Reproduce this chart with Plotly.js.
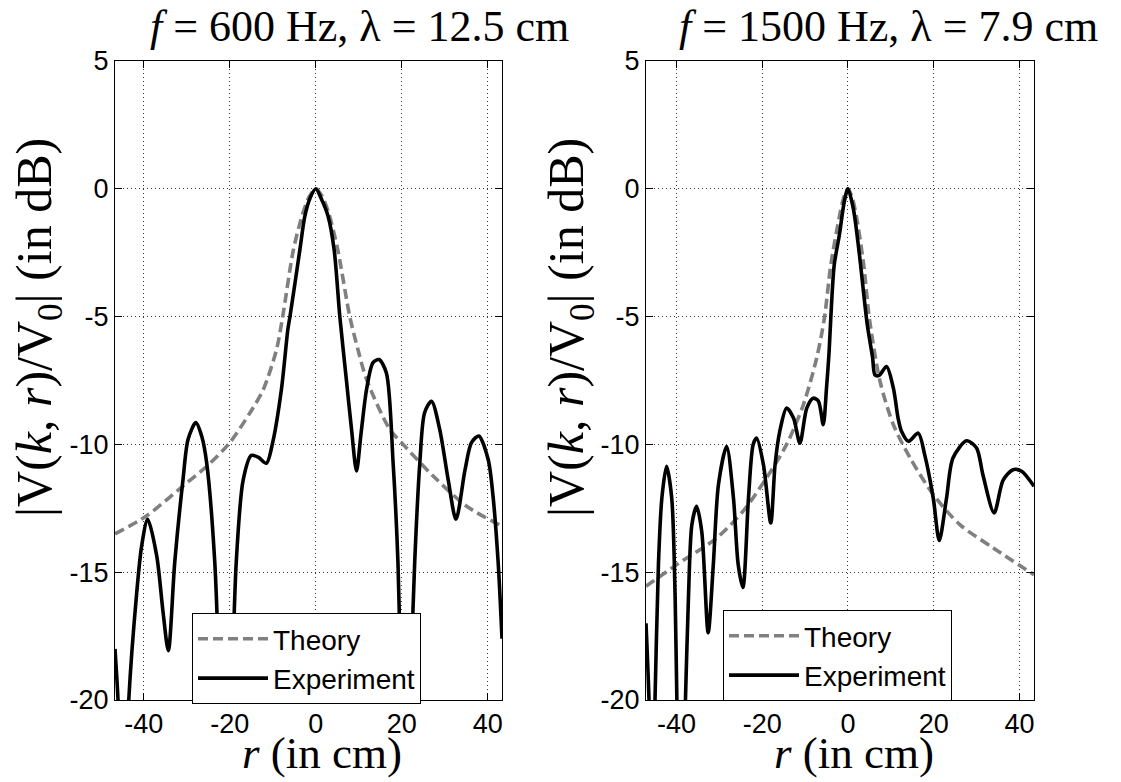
<!DOCTYPE html>
<html>
<head>
<meta charset="utf-8">
<script src="https://cdn.plot.ly/plotly-3.0.1.min.js"></script>
<style>html,body{margin:0;padding:0;background:#fff;}#chart{width:1121px;height:782px;}</style>
</head>
<body>
<div id="chart"></div>
<script>
// ---------- data ----------
const seriesNames = ['Theory', 'Experiment'];
const panelTitles = ['<i>f</i> = 600 Hz, λ = 12.5 cm', '<i>f</i> = 1500 Hz, λ = 7.9 cm'];
const xTickVals = [-40, -20, 0, 20, 40];
const yTickVals = [-20, -15, -10, -5, 0, 5];

// Left panel (600 Hz)
const leftTheoryR = [-46.7,-39.4,-30.9,-25,-20,-15.3,-12.2,-9.14,-7.7,-5.2,-3.0,-1.5,0,1.5,3.0,5.1,7.9,9.8,11.8,17.2,20.3,27.3,35,43.3];
const leftTheoryV = [-13.5,-12.8,-11.63,-10.8,-9.93,-8.76,-7.85,-6.29,-5.0,-2.38,-0.95,-0.3,0,-0.3,-0.95,-2.38,-5.0,-6.29,-7.46,-9.41,-10.0,-11.24,-12.41,-13.2];
const leftExpR = [-46.7,-46.0,-44.8,-43.5,-41.7,-40.5,-39.1,-37.0,-35.5,-34.3,-32.8,-30.9,-29.7,-27.9,-26.5,-25.4,-23.5,-22.3,-21.0,-19.6,-18.5,-16.9,-15.0,-13.4,-11.5,-10.0,-8.0,-6.5,-6.0,-3.7,-2.56,-1.3,0,1.3,2.87,4.26,5.58,7.1,8.3,9.46,10.5,11.8,13.3,14.7,16.4,17.97,19.1,19.9,20.9,21.9,23.0,24.2,25.3,26.9,28.8,30.8,32.6,34.7,36.2,37.9,40.1,41.2,42.4,43.3];
const leftExpV = [-18.0,-20.0,-26.0,-20.0,-15.9,-13.97,-12.93,-14.36,-16.6,-18.07,-14.6,-11.4,-9.8,-9.15,-9.7,-10.7,-14.6,-20.0,-26.0,-20.0,-14.6,-11.4,-10.43,-10.5,-10.74,-9.9,-7.85,-5.5,-4.99,-2.38,-1.08,-0.35,0,-0.4,-1.08,-2.38,-4.99,-7.46,-9.4,-11.04,-9.6,-7.85,-6.8,-6.68,-7.2,-10.7,-14.6,-20.0,-26.0,-20.0,-14.6,-10.7,-8.76,-8.31,-9.4,-11.4,-12.93,-11.0,-9.93,-9.67,-10.6,-12.0,-14.6,-17.6];

// Right panel (1500 Hz)
const rightTheoryR = [-47.1,-39.9,-30.6,-24.4,-18.95,-14.3,-10.4,-7.3,-5.5,-4.0,-2.0,-1.0,0,1.0,2.0,3.7,5.0,7.5,10.6,14.5,19.9,26.1,33.9,43.4];
const rightTheoryV = [-15.55,-14.7,-13.66,-12.6,-11.3,-10.0,-8.45,-6.63,-5.07,-2.98,-1.1,-0.35,0,-0.35,-1.1,-3.0,-5.07,-7.54,-9.23,-10.53,-11.96,-13.14,-14.05,-15.1];
const rightExpR = [-47.1,-46.4,-45.8,-45.0,-44.2,-43.4,-42.3,-41.1,-40.3,-39.9,-39.0,-37.9,-37.2,-36.4,-35.3,-34.1,-32.6,-31.4,-30.2,-28.3,-26.7,-25.6,-24.5,-23.2,-22.1,-21.3,-19.7,-18.0,-17.0,-15.9,-14.3,-12.7,-11.2,-9.6,-8.1,-6.9,-5.76,-5.0,-4.4,-4.0,-3.2,-2.0,-0.86,0,1.25,2.6,4.5,5.75,6.3,7.3,9.0,10.6,11.7,12.5,14.1,16.4,17.9,19.9,21.3,23.0,24.5,27.7,30.0,31.5,34.1,36.2,38.5,40.5,43.4];
const rightExpV = [-17.0,-20.0,-25.0,-20.0,-14.7,-12.1,-10.86,-12.1,-16.0,-20.0,-26.0,-20.0,-16.0,-13.14,-12.42,-13.4,-17.37,-14.7,-11.57,-10.08,-12.1,-14.7,-15.6,-12.1,-10.0,-9.75,-10.8,-13.07,-10.8,-9.49,-8.58,-8.97,-9.95,-8.58,-8.19,-8.3,-9.23,-7.8,-6.4,-5.07,-2.98,-1.81,-0.51,0,-0.77,-2.46,-5.3,-6.6,-7.28,-7.3,-6.95,-7.8,-8.97,-9.49,-9.88,-9.56,-10.4,-12.1,-13.76,-12.1,-10.53,-9.86,-10.14,-11.2,-12.68,-11.4,-10.99,-11.05,-11.64];

// ---------- styling ----------
const W = 1121, H = 782;
const fx = p => p / W;
const fy = p => 1 - p / H;
const serif = 'Liberation Serif, Times New Roman, serif';
const sans = 'Liberation Sans, Arial, sans-serif';

const theoryLine = {color: '#808080', width: 3.6, dash: '10px,5px', shape: 'spline', smoothing: 0.8};
const expLine = {color: '#000000', width: 3.6, shape: 'spline', smoothing: 0.8};

const traces = [
  {x: leftTheoryR, y: leftTheoryV, name: seriesNames[0], mode: 'lines', line: theoryLine, xaxis: 'x', yaxis: 'y', legend: 'legend'},
  {x: leftExpR, y: leftExpV, name: seriesNames[1], mode: 'lines', line: expLine, xaxis: 'x', yaxis: 'y', legend: 'legend'},
  {x: rightTheoryR, y: rightTheoryV, name: seriesNames[0], mode: 'lines', line: theoryLine, xaxis: 'x2', yaxis: 'y2', legend: 'legend2'},
  {x: rightExpR, y: rightExpV, name: seriesNames[1], mode: 'lines', line: expLine, xaxis: 'x2', yaxis: 'y2', legend: 'legend2'}
];

const axCommon = {
  showline: true, linecolor: 'black', linewidth: 1, mirror: 'allticks',
  ticks: 'inside', ticklen: 7, tickwidth: 1, tickcolor: 'black',
  showgrid: true, gridcolor: '#3a3a3a', gridwidth: 1, griddash: '1px,3px',
  zeroline: false, fixedrange: true,
  tickfont: {family: sans, size: 27, color: 'black'}
};
const xCommon = Object.assign({}, axCommon, {tickmode: 'array', tickvals: xTickVals, ticktext: xTickVals.map(String)});
const yCommon = Object.assign({}, axCommon, {tickmode: 'array', tickvals: yTickVals, ticktext: yTickVals.map(String), range: [-20, 5], domain: [fy(700), fy(61)]});

const legendCommon = {
  xanchor: 'left', yanchor: 'top', bgcolor: 'white', bordercolor: 'black', borderwidth: 1,
  font: {family: sans, size: 28, color: 'black'}, itemwidth: 70, tracegroupgap: 0
};

const ann = [];
function addText(text, x, y, size, angle) {
  ann.push({text: text, xref: 'paper', yref: 'paper', x: fx(x), y: fy(y), xanchor: 'center', yanchor: 'middle',
    showarrow: false, textangle: angle || 0, font: {family: serif, size: size, color: 'black'}});
}
addText(panelTitles[0], 359, 26, 44);
addText(panelTitles[1], 888, 26, 44);
const yTitle = '|V(<i>k</i>, <i>r</i>)/V<sub>0</sub>| (in dB)';
const xTitle = '<i>r</i> (in cm)';
addText(yTitle, 38, 328, 50, -90);
addText(yTitle, 570, 328, 50, -90);
addText(xTitle, 322, 753, 45);
addText(xTitle, 854, 753, 45);

const layout = {
  width: W, height: H,
  margin: {l: 0, r: 0, t: 0, b: 0},
  paper_bgcolor: 'white', plot_bgcolor: 'white',
  showlegend: true,
  xaxis: Object.assign({}, xCommon, {domain: [fx(115), fx(502)], range: [-46.7, 43.3], anchor: 'y'}),
  yaxis: Object.assign({}, yCommon, {anchor: 'x'}),
  xaxis2: Object.assign({}, xCommon, {domain: [fx(646), fx(1034)], range: [-47.1, 43.4], anchor: 'y2'}),
  yaxis2: Object.assign({}, yCommon, {anchor: 'x2'}),
  legend: Object.assign({}, legendCommon, {x: fx(192), y: fy(613)}),
  legend2: Object.assign({}, legendCommon, {x: fx(723), y: fy(610)}),
  annotations: ann
};

Plotly.newPlot('chart', traces, layout, {displayModeBar: false, staticPlot: true});
</script>
</body>
</html>
